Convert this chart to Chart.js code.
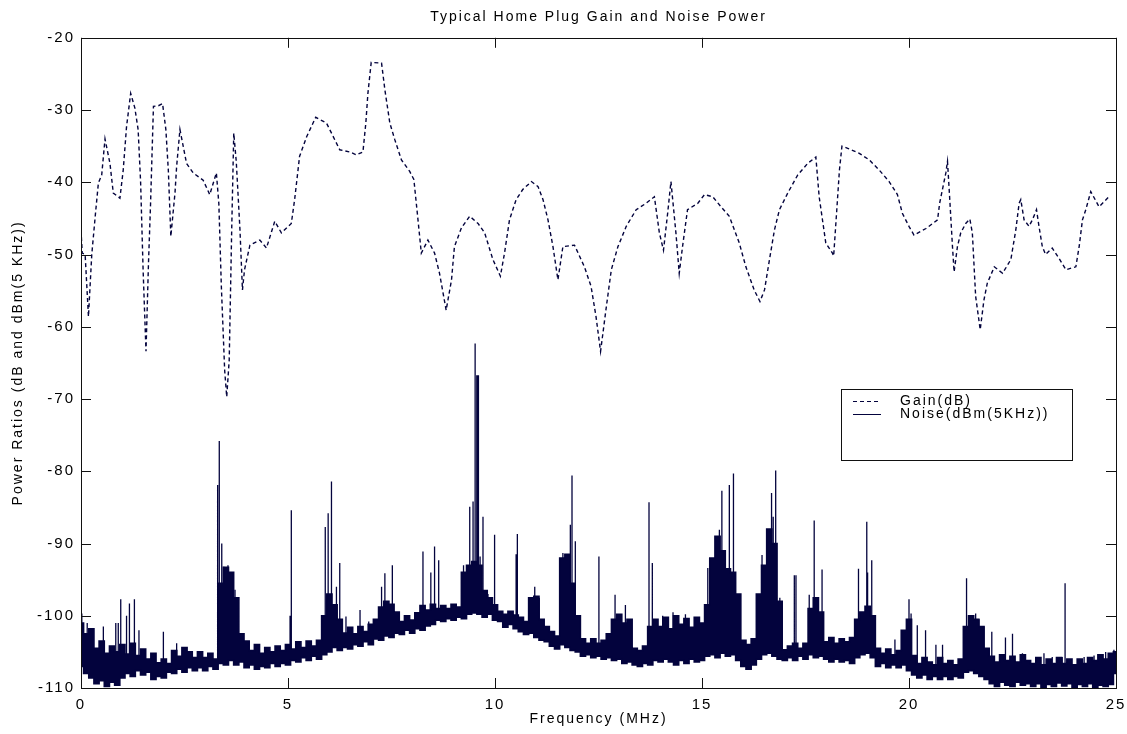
<!DOCTYPE html>
<html>
<head>
<meta charset="utf-8">
<script src="https://cdn.jsdelivr.net/npm/chart.js@4.4.0/dist/chart.umd.min.js"></script>
<style>
  html, body { margin: 0; padding: 0; background: #fff; }
</style>
</head>
<body>
<canvas id="chart" width="1127" height="734"></canvas>
<script>
// gain curve (MHz, dB)
const gainFreq = [
  0.00, 0.03, 0.10, 0.18, 0.26, 0.35, 0.42, 0.50, 0.58, 0.70, 0.78, 0.94, 1.02, 1.10, 1.20, 1.30,
  1.38, 1.44, 1.50, 1.57, 1.63, 1.68, 1.75, 1.87, 1.97, 2.05, 2.11, 2.17, 2.27, 2.31, 2.39, 2.55,
  2.71, 2.95, 3.11, 3.27, 3.33, 3.39, 3.47, 3.52, 3.58, 3.64, 3.69, 3.75, 3.84, 3.90, 3.95, 4.08,
  4.32, 4.48, 4.68, 4.84, 5.08, 5.16, 5.28, 5.45, 5.67, 5.93, 6.25, 6.49, 6.65, 6.81, 6.88, 6.93,
  7.01, 7.26, 7.34, 7.46, 7.58, 7.74, 7.94, 8.04, 8.14, 8.22, 8.38, 8.54, 8.66, 8.82, 8.95, 9.02,
  9.19, 9.39, 9.59, 9.75, 9.95, 10.13, 10.23, 10.35, 10.51, 10.67, 10.88, 11.04, 11.16, 11.28, 11.40, 11.52,
  11.64, 11.92, 12.16, 12.32, 12.44, 12.55, 12.69, 12.81, 12.97, 13.17, 13.41, 13.65, 13.85, 13.97, 14.07, 14.17,
  14.25, 14.37, 14.45, 14.53, 14.65, 14.90, 15.06, 15.26, 15.46, 15.66, 15.90, 16.06, 16.26, 16.40, 16.51, 16.63,
  16.75, 16.87, 17.07, 17.31, 17.55, 17.75, 17.83, 17.99, 18.15, 18.18, 18.25, 18.32, 18.38, 18.52, 18.80, 19.04,
  19.28, 19.52, 19.72, 19.84, 20.00, 20.12, 20.41, 20.69, 20.74, 20.89, 20.93, 20.99, 21.05, 21.09, 21.17, 21.25,
  21.37, 21.47, 21.53, 21.61, 21.72, 21.81, 21.89, 22.06, 22.26, 22.46, 22.58, 22.66, 22.70, 22.78, 22.90, 22.98,
  23.08, 23.14, 23.22, 23.30, 23.46, 23.62, 23.79, 24.03, 24.11, 24.19, 24.27, 24.39, 24.44, 24.59, 24.71, 24.83
];
const gainDb = [
  -46.6, -49.8, -50.0, -58.6, -50.0, -44.3, -40.1, -39.0, -34.0, -37.4, -41.5, -42.2, -38.3, -32.3, -27.7, -29.7,
  -32.7, -40.0, -52.1, -63.4, -51.2, -43.0, -29.5, -29.4, -29.1, -32.7, -38.4, -47.5, -41.5, -37.8, -32.7, -37.4,
  -38.7, -39.7, -41.7, -38.7, -43.0, -54.4, -66.0, -69.7, -64.6, -46.6, -33.2, -37.1, -46.6, -54.9, -52.1, -48.7,
  -48.0, -49.1, -45.4, -47.0, -45.7, -42.4, -36.4, -33.7, -31.0, -31.8, -35.5, -35.8, -36.2, -35.8, -31.8, -27.7,
  -23.4, -23.5, -27.2, -31.8, -34.1, -36.9, -38.5, -39.6, -45.2, -49.8, -48.0, -49.8, -52.6, -57.7, -53.5, -48.9,
  -46.3, -44.7, -45.7, -47.0, -50.7, -53.0, -49.8, -45.2, -42.4, -41.0, -39.9, -40.6, -42.4, -45.2, -48.9, -53.5,
  -48.9, -48.7, -51.7, -54.4, -58.6, -63.4, -57.2, -52.1, -48.9, -46.1, -43.8, -42.9, -42.0, -47.0, -49.4, -44.3,
  -39.9, -47.0, -52.6, -48.9, -43.8, -42.9, -41.7, -42.0, -43.4, -44.7, -48.4, -51.7, -54.9, -56.5, -54.9, -50.7,
  -46.6, -43.8, -41.5, -39.0, -37.4, -36.5, -42.0, -48.4, -49.8, -50.2, -44.3, -38.3, -35.0, -35.3, -36.0, -36.9,
  -38.3, -39.9, -41.7, -44.3, -46.1, -47.3, -46.4, -45.2, -42.9, -38.7, -37.1, -42.9, -48.9, -52.4, -48.9, -47.0,
  -45.7, -45.1, -47.0, -55.8, -60.4, -56.3, -54.0, -51.7, -52.6, -50.7, -46.6, -42.9, -42.4, -45.2, -46.1, -45.2,
  -43.8, -46.1, -48.9, -50.0, -49.1, -50.5, -52.1, -51.7, -48.9, -45.2, -43.8, -41.3, -41.8, -43.4, -42.7, -42.0
];

// noise floor band: upper / lower edge every 0.125 MHz from 0 to 25 (dBm), one row per MHz
const noiseStep = 0.125;
const noiseHi = [
  -101.0, -102.5, -101.8, -104.5, -103.5, -105.2, -104.2, -105.0,
  -104.0, -105.3, -103.8, -105.5, -104.6, -106.0, -105.2, -106.5,
  -106.0, -106.6, -104.8, -105.6, -104.4, -105.0, -105.8, -105.0,
  -105.8, -105.2, -106.0, -95.5, -93.3, -94.0, -97.5, -102.5,
  -103.5, -104.8, -104.0, -105.2, -104.4, -105.0, -104.2, -104.8,
  -104.0, -104.6, -103.6, -104.4, -103.5, -104.2, -103.4, -100.0,
  -97.0, -98.5, -100.5, -102.4, -101.6, -102.5, -101.5, -102.2,
  -101.2, -100.5, -98.8, -98.0, -98.4, -99.5, -100.8, -100.0,
  -100.6, -99.6, -98.6, -99.2, -98.4, -99.0, -98.6, -99.0,
  -98.4, -98.8, -94.0, -93.0, -92.5, -93.0, -96.5, -97.5,
  -98.5, -99.4, -99.8, -99.4, -99.9, -100.2, -100.8, -97.5,
  -97.3, -100.5, -101.5, -102.2, -102.8, -92.0, -91.5, -95.5,
  -100.0, -103.2, -103.8, -103.2, -103.8, -103.4, -102.5, -100.5,
  -99.8, -101.0, -100.5, -104.5, -104.8, -104.2, -101.5, -100.5,
  -101.5, -100.2, -101.8, -100.0, -101.2, -100.4, -101.6, -100.2,
  -101.0, -98.5, -92.0, -89.0, -91.0, -93.5, -94.0, -97.0,
  -103.4, -104.0, -103.2, -97.0, -93.0, -88.0, -90.0, -98.0,
  -104.7, -104.2, -103.8, -104.5, -103.8, -99.0, -97.5, -99.5,
  -103.6, -103.0, -103.8, -103.2, -103.6, -103.0, -100.5, -99.5,
  -98.7, -100.0, -104.5, -105.2, -104.6, -105.4, -104.8, -102.0,
  -100.5, -105.5, -106.6, -105.8, -106.4, -106.8, -105.8, -106.6,
  -106.2, -106.8, -106.0, -101.5, -100.0, -100.5, -101.5, -104.5,
  -105.6, -106.4, -105.4, -106.2, -105.6, -106.4, -105.4, -106.2,
  -106.6, -105.8, -106.8, -106.0, -106.6, -105.8, -106.6, -106.0,
  -106.8, -106.0, -106.6, -105.8, -106.2, -105.4, -106.0, -105.2,
  -105.0
];
const noiseLo = [
  -107.0, -108.0, -108.6, -109.4, -109.0, -109.8, -109.2, -109.6,
  -108.6, -108.0, -108.4, -107.6, -108.2, -107.8, -108.8, -108.4,
  -108.6, -107.8, -108.0, -107.4, -107.8, -107.2, -107.6, -107.2,
  -107.6, -107.0, -107.4, -106.6, -106.8, -106.2, -106.8, -106.4,
  -107.2, -106.8, -107.4, -107.0, -107.2, -106.6, -107.0, -106.6,
  -106.8, -106.2, -106.4, -105.8, -106.2, -105.6, -106.0, -105.4,
  -105.0, -104.4, -104.8, -104.4, -104.6, -104.0, -104.2, -103.6,
  -104.0, -103.2, -103.4, -102.8, -103.0, -102.4, -102.6, -102.0,
  -102.4, -101.8, -102.0, -101.4, -101.2, -100.6, -100.8, -100.4,
  -100.6, -100.2, -100.4, -99.8, -99.6, -99.8, -100.2, -99.8,
  -100.6, -100.8, -101.6, -101.2, -101.8, -102.2, -102.6, -102.4,
  -103.0, -103.4, -103.6, -104.2, -104.6, -104.0, -104.4, -104.8,
  -105.0, -105.6, -105.4, -105.8, -105.6, -106.0, -105.8, -106.2,
  -106.0, -106.6, -106.4, -106.8, -107.0, -106.6, -106.8, -106.2,
  -106.4, -106.0, -106.4, -106.8, -106.2, -106.6, -106.0, -106.4,
  -106.2, -105.6, -105.4, -105.8, -105.2, -105.6, -105.4, -106.2,
  -107.0, -107.4, -106.8, -106.0, -105.4, -105.2, -105.6, -106.0,
  -106.2, -105.8, -106.2, -105.6, -106.0, -105.4, -105.8, -105.6,
  -106.0, -106.4, -106.0, -106.4, -106.2, -106.6, -105.8, -105.4,
  -105.2, -105.8, -107.0, -106.6, -107.2, -106.8, -107.2, -106.8,
  -107.6, -108.2, -108.6, -108.2, -108.8, -108.4, -108.8, -108.4,
  -108.8, -108.4, -108.6, -107.8, -107.6, -108.0, -108.4, -108.8,
  -109.4, -109.8, -109.2, -109.6, -109.8, -109.2, -109.6, -109.4,
  -109.8, -109.4, -109.9, -109.5, -109.8, -109.3, -109.7, -109.4,
  -109.9, -109.5, -109.8, -109.4, -109.9, -109.6, -109.8, -109.5,
  -108.0
];

// narrow interference peaks sticking out of the floor
const spikeFreq = [
  0.02, 0.15, 0.54, 0.84, 0.90, 0.96, 1.10, 1.17, 1.29, 1.40, 1.99, 2.31,
  3.30, 3.34, 3.40, 3.45, 3.55, 3.62, 3.72, 5.05, 5.08, 5.90, 5.97, 6.05,
  6.17, 6.25, 6.40, 6.74, 6.95, 7.26, 7.34, 7.52, 8.26, 8.45, 8.54, 8.64,
  9.24, 9.39, 9.47, 9.52, 9.56, 9.58, 9.60, 9.64, 9.71, 9.83, 9.99, 10.51,
  10.54, 10.96, 11.07, 11.64, 11.76, 11.82, 11.86, 11.94, 12.51, 12.90, 13.15, 13.72,
  13.80, 14.05, 14.30, 14.60, 15.14, 15.30, 15.42, 15.48, 15.66, 15.76, 16.45, 16.58,
  16.68, 16.72, 16.78, 16.88, 17.23, 17.27, 17.59, 17.71, 17.78, 17.90, 18.78, 18.85,
  18.98, 19.00, 19.10, 19.66, 19.85, 20.00, 20.05, 20.20, 20.40, 20.65, 20.81, 21.39,
  21.45, 21.61, 21.69, 21.81, 22.00, 22.33, 22.50, 22.74, 23.26, 23.46, 23.70, 23.77,
  24.23, 24.47, 24.75, 24.95
];
const spikePeak = [
  -99.7, -101, -101.5, -101, -101, -97.7, -100, -98.3, -97.7, -102, -102.2, -103.8,
  -81.9, -75.8, -90, -93.2, -93, -94, -96.4, -100, -85.4, -87.7, -85.8, -81.4,
  -96, -92.7, -100.1, -99.2, -100.8, -96, -94.1, -93, -91.1, -94, -90.4, -92.3,
  -93, -84.9, -84.2, -62.3, -66.7, -66.7, -66.7, -91.8, -86.3, -97, -88.8, -91.5,
  -88.7, -96, -97.5, -91.3, -91.5, -87.4, -80.6, -89.7, -91.8, -97.1, -98.5, -84.3,
  -92.7, -100, -99.5, -99.8, -93.4, -94, -88.1, -82.7, -81.9, -80.3, -91.6, -91,
  -83, -86.3, -79.9, -97.5, -94.4, -94.4, -97.1, -86.8, -97.5, -93.6, -93.5, -100,
  -87, -94, -92.3, -103.3, -103.5, -97.7, -99.7, -101.3, -102, -104, -104, -94.8,
  -100.3, -99.7, -100.5, -101.5, -102.2, -103, -102.5, -105.2, -105.2, -105.7, -105.7, -95.5,
  -105.7, -105.5, -105, -104.7
];

const xTicks = [0, 5, 10, 15, 20, 25];
const yTicks = [-110, -100, -90, -80, -70, -60, -50, -40, -30, -20];

const navy = "#03033d";
const fontFamily = "'Liberation Sans', Arial, sans-serif";

const gainPoints = gainFreq.map((f, i) => ({ x: f, y: gainDb[i] }));
const hiPoints = noiseHi.map((v, i) => ({ x: i * noiseStep, y: v }));
const loPoints = noiseLo.map((v, i) => ({ x: i * noiseStep, y: v }));

// each peak is a vertical stroke from the band floor up to its top
const spikePoints = [];
spikeFreq.forEach((f, i) => {
    const k = Math.min(Math.floor(f / noiseStep), noiseLo.length - 2);
    const base = Math.max(noiseLo[k], noiseLo[k + 1]);
    spikePoints.push({ x: f, y: base }, { x: f, y: spikePeak[i] }, { x: f, y: null });
});

// box, inward tick marks and the legend, matlab style
const framePlugin = {
    id: "frame",
    beforeDraw(chart) {
        chart.ctx.letterSpacing = "2px";
    },
    afterDatasetsDraw(chart) {
        const { ctx, chartArea: a, scales } = chart;
        const len = 10;
        ctx.save();
        ctx.strokeStyle = "#111";
        ctx.lineWidth = 1;
        ctx.strokeRect(Math.round(a.left) + 0.5, Math.round(a.top) + 0.5,
            Math.round(a.right - a.left), Math.round(a.bottom - a.top));

        ctx.beginPath();
        xTicks.forEach((v) => {
            const px = Math.round(scales.x.getPixelForValue(v)) + 0.5;
            ctx.moveTo(px, a.bottom); ctx.lineTo(px, a.bottom - len);
            ctx.moveTo(px, a.top); ctx.lineTo(px, a.top + len);
        });
        yTicks.forEach((v) => {
            const py = Math.round(scales.y.getPixelForValue(v)) + 0.5;
            ctx.moveTo(a.left, py); ctx.lineTo(a.left + len, py);
            ctx.moveTo(a.right, py); ctx.lineTo(a.right - len, py);
        });
        ctx.stroke();

        // legend box
        const bx = 841, by = 389, bw = 231, bh = 71;
        ctx.fillStyle = "#fff";
        ctx.fillRect(bx, by, bw, bh);
        ctx.strokeStyle = "#111";
        ctx.strokeRect(bx + 0.5, by + 0.5, bw, bh);

        ctx.strokeStyle = navy;
        ctx.setLineDash([4, 3]);
        ctx.beginPath();
        ctx.moveTo(853, 401.5); ctx.lineTo(881, 401.5);
        ctx.stroke();
        ctx.setLineDash([]);
        ctx.beginPath();
        ctx.moveTo(853, 414.5); ctx.lineTo(881, 414.5);
        ctx.stroke();

        ctx.fillStyle = "#000";
        ctx.font = "14px " + fontFamily;
        ctx.textBaseline = "middle";
        ctx.textAlign = "left";
        ctx.fillText("Gain(dB)", 900, 401);
        ctx.fillText("Noise(dBm(5KHz))", 900, 414);
        ctx.restore();
    }
};

const ctx = document.getElementById("chart");
new Chart(ctx, {
    type: "line",
    data: {
        datasets: [
            {
                label: "noise top",
                data: hiPoints,
                borderColor: navy,
                borderWidth: 1.6,
                pointRadius: 0,
                stepped: "middle",
                fill: false
            },
            {
                label: "Noise(dBm(5KHz))",
                data: loPoints,
                borderColor: navy,
                backgroundColor: navy,
                borderWidth: 1.6,
                pointRadius: 0,
                stepped: "middle",
                fill: "-1"
            },
            {
                label: "noise peaks",
                data: spikePoints,
                borderColor: navy,
                borderWidth: 1.3,
                pointRadius: 0,
                spanGaps: false,
                fill: false
            },
            {
                label: "Gain(dB)",
                data: gainPoints,
                borderColor: navy,
                borderWidth: 1.4,
                borderDash: [4, 3],
                pointRadius: 0,
                tension: 0,
                fill: false
            }
        ]
    },
    options: {
        responsive: false,
        animation: false,
        events: [],
        layout: { padding: { top: 0, right: 11, bottom: 0, left: 0 } },
        plugins: {
            legend: { display: false },
            tooltip: { enabled: false },
            title: {
                display: true,
                fullSize: false,
                text: "Typical Home Plug Gain and Noise Power",
                color: "#000",
                font: { family: fontFamily, size: 14, weight: "normal" },
                padding: { top: 9, bottom: 12 }
            }
        },
        scales: {
            x: {
                type: "linear",
                min: 0,
                max: 25,
                afterBuildTicks: (s) => { s.ticks = xTicks.map((v) => ({ value: v })); },
                afterFit: (s) => { s.height = 46; s.paddingLeft = 0; s.paddingRight = 0; },
                grid: { display: false, drawTicks: false },
                border: { display: false },
                ticks: {
                    color: "#000",
                    padding: 8,
                    maxRotation: 0,
                    font: { family: fontFamily, size: 15 }
                },
                title: {
                    display: true,
                    text: "Frequency (MHz)",
                    color: "#000",
                    font: { family: fontFamily, size: 14 },
                    padding: { top: 0, bottom: 6 }
                }
            },
            y: {
                type: "linear",
                min: -110,
                max: -20,
                afterBuildTicks: (s) => { s.ticks = yTicks.map((v) => ({ value: v })); },
                afterFit: (s) => { s.width = 81; },
                grid: { display: false, drawTicks: false },
                border: { display: false },
                ticks: {
                    color: "#000",
                    padding: 6,
                    font: { family: fontFamily, size: 15 }
                },
                title: {
                    display: true,
                    text: "Power Ratios (dB and dBm(5 KHz))",
                    color: "#000",
                    font: { family: fontFamily, size: 14 },
                    padding: { top: 10, bottom: 0 }
                }
            }
        }
    },
    plugins: [framePlugin]
});
</script>
</body>
</html>
